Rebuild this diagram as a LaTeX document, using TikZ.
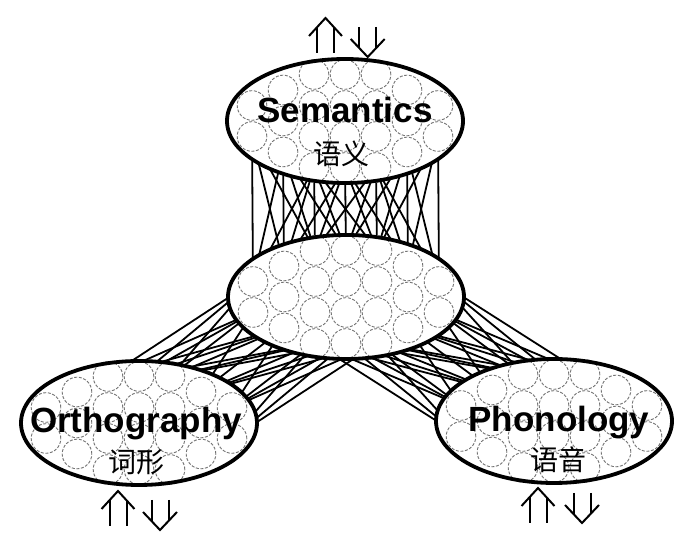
\documentclass[tikz,border=0pt]{standalone}
\usepackage{fontspec}
\setsansfont{Liberation Sans}
\newfontfamily\zh{Noto Sans CJK SC}
\usetikzlibrary{shapes.geometric}
\pgfdeclarelayer{bg}
\pgfsetlayers{bg,main}

\newcommand{\netpool}[3]{%
	\node[pool] (#1) at (#2,#3) {};
	\foreach \k/\n in {0/2,1/3,2/4,3/4,4/4,5/3,6/2}
	\foreach \j in {1,...,\n}
	\node[unit] (#1-\k-\j) at ({#2+(\k-3)*31},{#3+(\j-(\n+1)/2)*31}) {};
	\node[rim] (#1-rim) at (#1) {};
}

\begin{document}
\begin{tikzpicture}[
	x=0.5pt, y=-0.5pt,
	pool/.style={ellipse, fill=white, inner sep=0pt,
		minimum width=118pt, minimum height=62pt},
	rim/.style={ellipse, draw, line width=1.9pt, inner sep=0pt,
		minimum width=118pt, minimum height=62pt},
	unit/.style={circle, draw=black!55, dash pattern=on 1.5pt off 0.8pt,
		line width=0.45pt, fill=white, minimum size=14.8pt, inner sep=0pt},
	link/.style={line width=0.9pt},
	entext/.style={font=\sffamily\bfseries\fontsize{17.5pt}{17.5pt}\selectfont,
		inner sep=0pt, anchor=base},
	zhtext/.style={font=\zh\fontsize{14pt}{14pt}\selectfont, inner sep=0pt},
	pics/up arrow/.style={code={
			\draw[line width=1pt] (-16.5,-17) -- (0,-35) -- (16.5,-17);
			\draw[line width=1pt] (-8.5,0) -- (-8.5,-25.7) (8.5,0) -- (8.5,-25.7);
	}},
	pics/down arrow/.style={code={
			\draw[line width=1pt] (-17,12) -- (0,30) -- (17,12);
			\draw[line width=1pt] (-8.5,0) -- (-8.5,21) (8.5,0) -- (8.5,21);
	}}]
	\useasboundingbox (0,0) rectangle (696,544);
	
	\netpool{sem}{345}{121}
	\netpool{hid}{346}{297}
	\netpool{orth}{139}{423}
	\netpool{phon}{554}{421}
	
	\begin{pgfonlayer}{bg}
		\foreach \a/\na in {0/2,1/3,2/4,3/4,4/4,5/3,6/2}
		\foreach \d in {-2,...,2}{
			\pgfmathtruncatemacro\b{\a+\d}
			\ifnum\b<0\else\ifnum\b>6\else
			\draw[link] (sem-\a-\na) -- (hid-\b-1);
			\fi\fi
		}
		\foreach \a [count=\i] in {hid-0-1,hid-0-2,hid-1-3,hid-2-4,hid-3-4,hid-4-4}
		\foreach \b [count=\j] in {orth-2-1,orth-3-1,orth-4-1,orth-5-1,orth-6-1,orth-6-2}{
			\pgfmathtruncatemacro\d{abs(\i-\j)}
			\ifnum\d>2\else\draw[link] (\a) -- (\b);\fi
		}
		\foreach \a [count=\i] in {hid-6-1,hid-6-2,hid-5-3,hid-4-4,hid-3-4,hid-2-4}
		\foreach \b [count=\j] in {phon-4-1,phon-3-1,phon-2-1,phon-1-1,phon-0-1,phon-0-2}{
			\pgfmathtruncatemacro\d{abs(\i-\j)}
			\ifnum\d>2\else\draw[link] (\a) -- (\b);\fi
		}
	\end{pgfonlayer}
	
	\node[entext] (sem-en) at (345,123) {Semantics};
	\node[zhtext] (sem-zh) at (341,154) {语义};
	\node[entext] (orth-en) at (136,433) {Orthography};
	\node[zhtext] (orth-zh) at (136,462) {词形};
	\node[entext] (phon-en) at (559,432) {Phonology};
	\node[zhtext] (phon-zh) at (558,460) {语音};
	
	\pic at (325.5,53) {up arrow};
	\pic at (367.7,27) {down arrow};
	\pic at (118,526) {up arrow};
	\pic at (160,500) {down arrow};
	\pic at (538,523) {up arrow};
	\pic at (582,493) {down arrow};
\end{tikzpicture}
\end{document}
